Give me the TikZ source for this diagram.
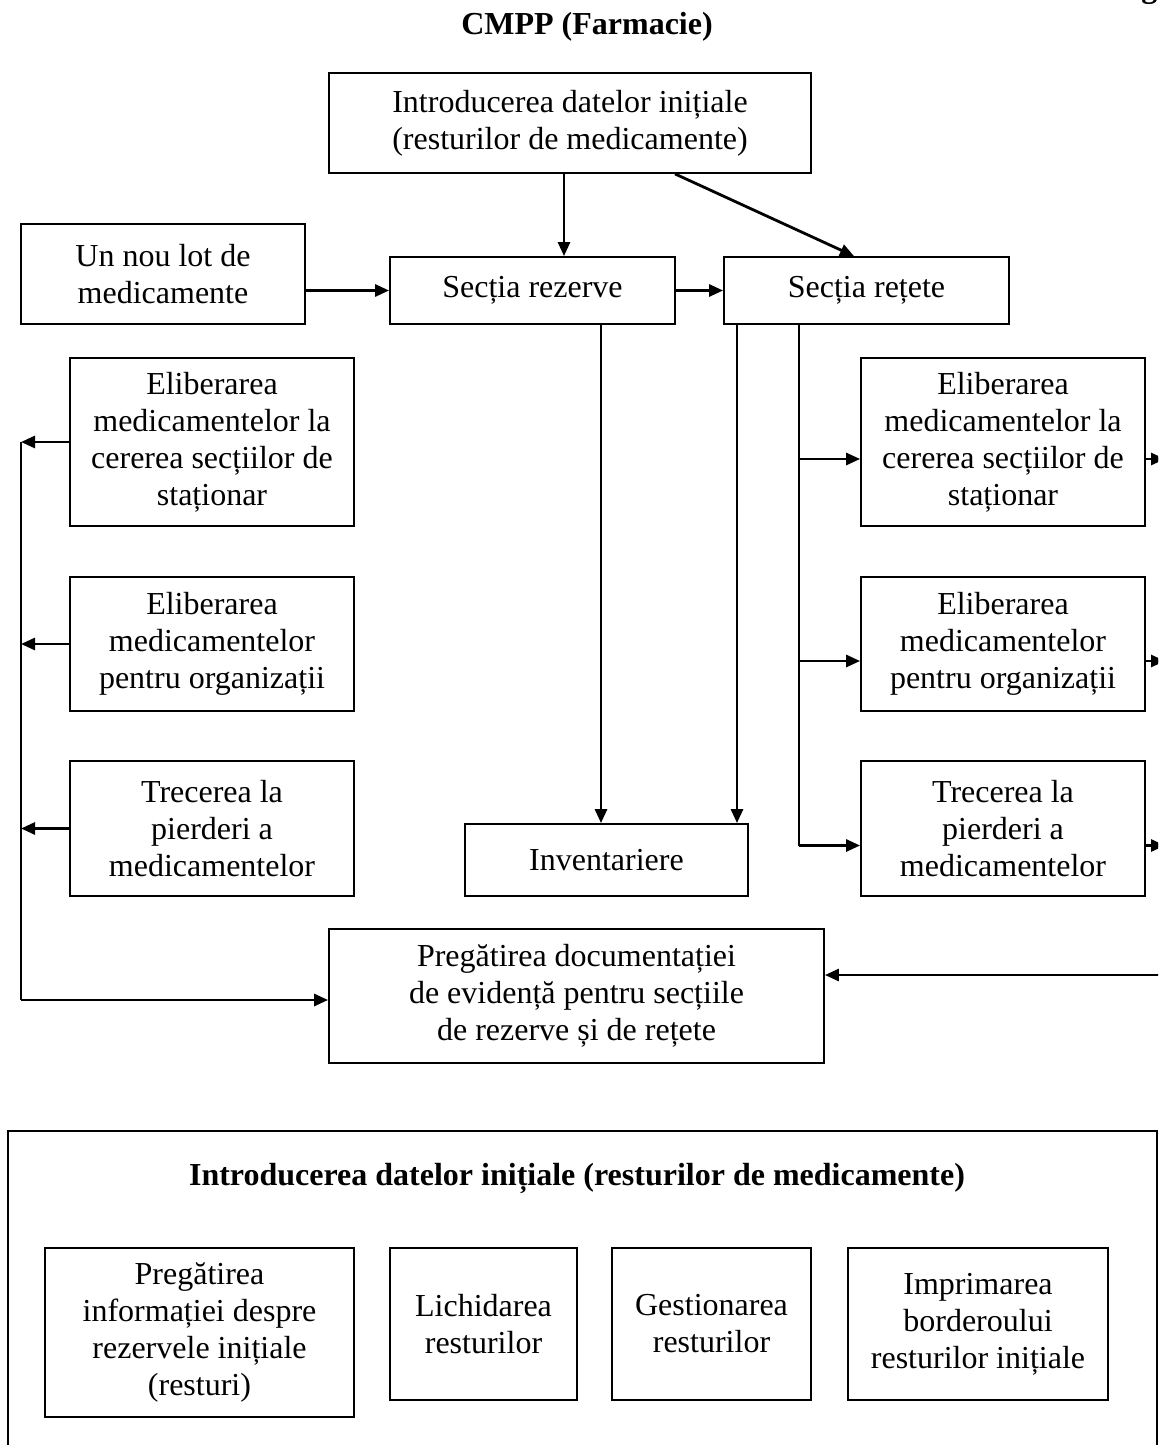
\documentclass[tikz,border=0pt]{standalone}
\usepackage{fontspec}
\setmainfont{Liberation Serif}
\usetikzlibrary{arrows.meta, calc}

\begin{document}
\begin{tikzpicture}[
    x=0.5pt, y=-0.5pt,
    font=\fontsize{16}{18.5}\selectfont,
    box/.style={rectangle, draw, line width=0.9pt, inner sep=0pt,
                text centered},
    sz/.style 2 args={minimum width=#1*0.5pt, minimum height=#2*0.5pt},
    arr/.style={-{Triangle[length=7pt, width=6pt]}, line width=1.4pt},
    link/.style={line width=0.9pt},
    every node/.style={align=center}
  ]

  \useasboundingbox (0,0) rectangle (1158,1445);
  \clip (0,0) rectangle (1158,1445);

  %% ---- Titles ----
  \node[font=\fontsize{16}{18.5}\selectfont\bfseries] (title) at (587,27) {CMPP (Farmacie)};
  \node[font=\fontsize{16}{18.5}\selectfont\bfseries, anchor=base west, inner sep=0pt] (fig) at (1141,-2) {g};

  %% ---- Top part ----
  \node[box, sz={482}{100}] (intro) at (570,123) {Introducerea datelor inițiale\\(resturilor de medicamente)};
  \node[box, sz={284}{100}] (lot)   at (163,274) {Un nou lot de\\medicamente};
  \node[box, sz={285}{67}]  (rez)   at (532.5,290.5) {Secția rezerve};
  \node[box, sz={285}{67}]  (ret)   at (866.5,290.5) {Secția rețete};

  %% ---- Left column ----
  \node[box, sz={284}{168}] (l1) at (212,442)   {Eliberarea\\medicamentelor la\\cererea secțiilor de\\staționar};
  \node[box, sz={284}{134}] (l2) at (212,644)   {Eliberarea\\medicamentelor\\pentru organizații};
  \node[box, sz={284}{135}] (l3) at (212,828.5) {Trecerea la\\pierderi a\\medicamentelor};

  %% ---- Right column ----
  \node[box, sz={284}{168}] (r1) at (1003,442)   {Eliberarea\\medicamentelor la\\cererea secțiilor de\\staționar};
  \node[box, sz={284}{134}] (r2) at (1003,644)   {Eliberarea\\medicamentelor\\pentru organizații};
  \node[box, sz={284}{135}] (r3) at (1003,828.5) {Trecerea la\\pierderi a\\medicamentelor};

  \node[box, sz={283}{72}]  (inv)  at (606.5,860) {Inventariere};
  \node[box, sz={495}{134}] (prep) at (576.5,996) {Pregătirea documentației\\de evidență pentru secțiile\\de rezerve și de rețete};

  %% ---- Bottom frame ----
  \node[box, sz={1149}{330}] (frame) at (582.5,1296) {};
  \node[font=\fontsize{16}{18.5}\selectfont\bfseries] (ftitle) at (577,1178) {Introducerea datelor inițiale (resturilor de medicamente)};
  \node[box, sz={309}{169}] (b1) at (199.5,1332.5) {Pregătirea\\informației despre\\rezervele inițiale\\(resturi)};
  \node[box, sz={187}{152}] (b2) at (483.5,1324) {Lichidarea\\resturilor};
  \node[box, sz={199}{152}] (b3) at (711.5,1324) {Gestionarea\\resturilor};
  \node[box, sz={260}{152}] (b4) at (978,1324)   {Imprimarea\\borderoului\\resturilor inițiale};

  %% ---- Helper coordinates ----
  \coordinate (lx)  at (21,442);
  \coordinate (rr)  at (1165,458);
  \coordinate (rb)  at ([xshift=-33.75pt]ret.south);
  \coordinate (pin) at ([yshift=10.5pt]prep.east);
  \coordinate (pout) at ([yshift=-2pt]prep.west);

  %% ---- Top arrows ----
  \draw[arr] ([xshift=-3pt]intro.south) -- ([xshift=-3pt]intro.south |- rez.north);
  \draw[arr] ([xshift=52.5pt]intro.south) -- ([xshift=-6.25pt]ret.north);
  \draw[arr] (lot.east |- rez.west) -- (rez.west);
  \draw[arr] (rez.east) -- (ret.west);

  %% ---- Down to Inventariere ----
  \draw[arr] ([xshift=34.25pt]rez.south) -- ([xshift=34.25pt]rez.south |- inv.north);
  \draw[arr] ([xshift=-64.75pt]ret.south) -- ([xshift=-64.75pt]ret.south |- inv.north);

  %% ---- Right branch ----
  \draw[link] (rb) -- ([yshift=-8.5pt]r3.west -| rb);
  \foreach \b in {r1,r2,r3} {
    \draw[arr] ([yshift=-8.5pt]\b.west -| rb) -- ([yshift=-8.5pt]\b.west);
    \draw[arr] ([yshift=-8.5pt]\b.east) -- ([yshift=-8.5pt]\b.east -| rr);
  }
  \draw[link] (rr) -- (rr |- pin);
  \draw[arr] (rr |- pin) -- (pin);

  %% ---- Left branch ----
  \foreach \b in {l1,l2,l3}
    \draw[arr] (\b.west) -- (\b.west -| lx);
  \draw[link] (lx) -- (lx |- pout);
  \draw[arr] (lx |- pout) -- (pout);

\end{tikzpicture}
\end{document}
